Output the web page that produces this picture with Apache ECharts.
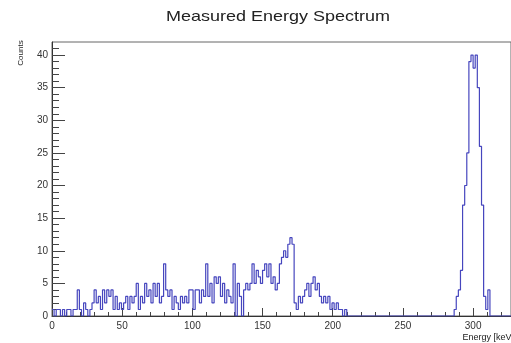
<!DOCTYPE html>
<html><head><meta charset="utf-8">
<script src="https://cdn.jsdelivr.net/npm/echarts@6/dist/echarts.min.js"></script>
<style>html,body{margin:0;padding:0;background:#fff}#c{width:511px;height:343px}</style>
</head><body><div id="c"></div>
<script>
// Histogram: 1.5 keV bins starting at 0 keV
const binStart = 0;
const binWidth = 1.5;
const counts = [
  1,0,1,1,0,1,0,1,1,0,
  1,1,4,1,0,2,1,0,1,2,
  4,2,3,1,4,2,4,3,4,1,
  3,1,2,1,2,3,1,3,2,3,
  5,1,3,2,5,3,4,2,5,3,
  5,2,3,8,4,3,4,1,3,2,
  1,3,2,3,2,4,4,1,4,4,
  2,4,3,8,3,5,2,6,5,6,
  3,5,2,4,3,2,8,0,5,3,
  0,4,5,4,5,8,5,7,6,5,
  7,8,6,8,5,6,4,5,8,9,
  10,9,11,12,11,2,1,3,2,3,
  4,5,3,5,6,4,5,3,2,3,
  2,3,1,2,1,2,1,1,0,1,
  0,0,0,0,0,0,0,0,0,0,
  0,0,0,0,0,0,0,0,0,0,
  0,0,0,0,0,0,0,0,0,0,
  0,0,0,0,0,0,0,0,0,0,
  0,0,0,0,0,0,0,0,0,0,
  0,1,3,4,7,17,20,25,39,40,
  38,40,35,26,17,3,1,4,0,0,
  0,0,0,0,0,0,0,0
];
const xMajorTicks = [0,50,100,150,200,250,300];
const xMinorTicks = [10,20,30,40,60,70,80,90,110,120,130,140,160,170,180,190,210,220,230,240,260,270,280,290,310,320];
const yMajorTicks = [0,5,10,15,20,25,30,35,40];
const yMinorTicks = [1,2,3,4,6,7,8,9,11,12,13,14,16,17,18,19,21,22,23,24,26,27,28,29,31,32,33,34,36,37,38,39,41];
const xRange = [0, 327];
const yRange = [0, 42];
const titleText = 'Measured Energy Spectrum';
const xTitle = 'Energy [keV]';
const yTitle = 'Counts';

const points = counts.map((c, i) => [binStart + i * binWidth, c]);
points.push([binStart + counts.length * binWidth, counts[counts.length - 1]]);

const FONT = 'Liberation Sans, Arial, Helvetica, sans-serif';
const axisCol = '#333';

const chart = echarts.init(document.getElementById('c'), null, {renderer: 'canvas'});
chart.setOption({
  animation: false,
  backgroundColor: '#fff',
  grid: {left: 52, right: 0, top: 42, bottom: 27, show: true, borderColor: '#666', borderWidth: 1, backgroundColor: 'transparent'},
  xAxis: [
    {type: 'value', min: xRange[0], max: xRange[1], position: 'bottom',
     axisLine: {show: true, lineStyle: {color: axisCol, width: 1}},
     axisTick: {show: true, inside: true, length: 8, customValues: xMajorTicks, lineStyle: {color: '#444'}},
     axisLabel: {show: true, customValues: xMajorTicks, fontSize: 10, color: '#333', fontFamily: FONT, margin: 5},
     splitLine: {show: false}},
    {type: 'value', min: xRange[0], max: xRange[1], position: 'bottom',
     axisLine: {show: false},
     axisTick: {show: true, inside: true, length: 4, customValues: xMinorTicks, lineStyle: {color: '#444'}},
     axisLabel: {show: false},
     splitLine: {show: false}}
  ],
  yAxis: [
    {type: 'value', min: yRange[0], max: yRange[1], position: 'left',
     axisLine: {show: true, lineStyle: {color: axisCol, width: 1}},
     axisTick: {show: true, inside: true, length: 13, customValues: yMajorTicks, lineStyle: {color: '#444'}},
     axisLabel: {show: true, customValues: yMajorTicks, fontSize: 10, color: '#333', fontFamily: FONT, margin: 4},
     splitLine: {show: false}},
    {type: 'value', min: yRange[0], max: yRange[1], position: 'left',
     axisLine: {show: false},
     axisTick: {show: true, inside: true, length: 7, customValues: yMinorTicks, lineStyle: {color: '#444'}},
     axisLabel: {show: false},
     splitLine: {show: false}}
  ],
  series: [{
    type: 'line', step: 'end', data: points, xAxisIndex: 0, yAxisIndex: 0,
    symbol: 'none', lineStyle: {color: '#4646be', width: 1.2}, silent: true
  }],
  graphic: [
    {type: 'text', x: 278, y: 17, scaleX: 1.2, style: {text: titleText, font: '15px ' + FONT, fill: '#222', textAlign: 'center', textVerticalAlign: 'middle'}},
    {type: 'text', x: 21, y: 53, rotation: Math.PI / 2, style: {text: yTitle, font: '8px ' + FONT, fill: '#222', textAlign: 'center', textVerticalAlign: 'middle'}},
    {type: 'text', x: 514, y: 338, style: {text: xTitle, font: '9px ' + FONT, fill: '#222', textAlign: 'right', textVerticalAlign: 'middle'}}
  ]
});
</script></body></html>
